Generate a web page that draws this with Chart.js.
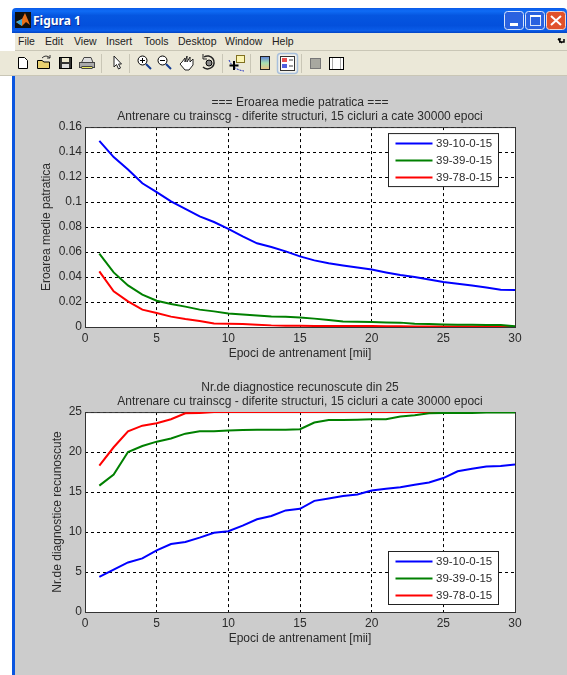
<!DOCTYPE html>
<html>
<head>
<meta charset="utf-8">
<title>Figura 1</title>
<script src="https://cdn.jsdelivr.net/npm/chart.js@4"></script>
<style>
html, body { margin: 0; padding: 0; background: #fff; overflow: hidden; }
#page { position: relative; width: 567px; height: 675px; overflow: hidden; font-family: "Liberation Sans", sans-serif; }
#titlebar { position: absolute; left: 12px; top: 8px; width: 555px; height: 25px; border-radius: 4px 4px 0 0;
  background: linear-gradient(#0a5ae8 0%, #0f6cf5 12%, #0556e0 30%, #0350dc 70%, #0a5ce8 90%, #0344c4 100%); }
#titlebar span { position: absolute; left: 21px; top: 4px; color: #fff; font: bold 12px "Noto Sans", sans-serif; text-shadow: 1px 1px 0 #0a2a90; }
#menubar { position: absolute; left: 15px; top: 33px; width: 552px; height: 17px; background: #ebe8d8; border-bottom: 1px solid #c9c6b6; }
#menubar span { position: absolute; top: 2px; font-size: 10.5px; color: #222; }
#toolbar { position: absolute; left: 0; top: 51px; width: 567px; height: 25px; }
#figure { position: absolute; left: 12px; top: 76px; width: 555px; height: 599px; background: #cccccc; border-left: 3px solid #0a55e0; box-sizing: border-box; }
canvas { position: absolute; left: 15px; filter: blur(0.35px); }
</style>
</head>
<body>
<div id="page">
  <div id="figure"></div>
  <div id="titlebar">
    <svg width="16" height="16" style="position:absolute;left:3px;top:4px"><rect width="16" height="16" fill="#101010"/><path d="M1 10 L7 7 L10 1 L13 8 L15 13 L11 10 L7 14 Z" fill="#e8701a"/><path d="M1 10 L7 7 L7 14 Z" fill="#3aa8d8"/></svg>
    <span>Figura 1</span>
    <svg width="90" height="25" style="position:absolute;left:485px;top:0">
      <rect x="7.5" y="3.5" width="19" height="18" rx="3" fill="#2a62e0" stroke="#d8e4fa"/><rect x="13" y="15" width="8" height="3" fill="#fff"/>
      <rect x="28.5" y="3.5" width="19" height="18" rx="3" fill="#2a62e0" stroke="#d8e4fa"/><rect x="33.5" y="7.5" width="10" height="10" fill="none" stroke="#d8e4fa"/><rect x="33" y="7" width="11" height="2" fill="#fff"/>
      <rect x="49.5" y="3.5" width="19" height="18" rx="3" fill="#e0512a" stroke="#f0d8d0"/><path d="M54 8 L64 17 M64 8 L54 17" stroke="#fff" stroke-width="2"/>
    </svg>
  </div>
  <div id="menubar">
    <svg width="10" height="10" style="position:absolute;left:541px;top:4px"><path d="M2 2 L6 6 M2 2 H5 M3 5 H8 V2" fill="none" stroke="#000" stroke-width="1.5"/></svg>
  </div>
  <svg id="toolbar" viewBox="0 0 567 25">
    <rect width="567" height="25" fill="#ebe8d8"/>
    <rect y="24" width="567" height="1" fill="#c9c6b6"/>
    <g fill="none" stroke="#000">
      <path d="M18.5 6.5 H24.5 L27.5 9.5 V17.5 H18.5 Z" fill="#fff"/>
      <path d="M37.5 9.5 H42 L44 11 H49.5 V17.5 H37.5 Z" fill="#e8d070"/><path d="M42 7 Q46 3 50 7 M50 4 V7 H47" stroke="#333"/>
      <rect x="59.5" y="6.5" width="12" height="11" fill="#333"/><rect x="62" y="7" width="7" height="4" fill="#ece8d0" stroke="none"/><rect x="62" y="13" width="7" height="4" fill="#ddd" stroke="none"/>
      <path d="M81.5 11.5 L84 6.5 H91 L93 11.5 Z" fill="#ddd" stroke="#444"/><rect x="79.5" y="11.5" width="15" height="5" fill="#aaa" stroke="#444"/><rect x="82" y="15.5" width="10" height="2" fill="#eeee60" stroke="#444"/>
      <path d="M114 5 V16 L116.5 13.5 L118.5 18 L120.5 17 L118.5 13 H121.5 Z" fill="#fff" stroke="#222"/>
      <circle cx="142.5" cy="9.5" r="4.5" fill="#fff"/><path d="M146 13 L151 18" stroke="#123a90" stroke-width="2"/><path d="M140 9.5 H145 M142.5 7 V12"/>
      <circle cx="162.5" cy="9.5" r="4.5" fill="#fff"/><path d="M166 13 L171 18" stroke="#123a90" stroke-width="2"/><path d="M160 9.5 H165"/>
      <path d="M182 11 L185 7 V11 L187 5 V11 L190 6 V11 L193 8 V14 L189 19 H185 L180 13 Z" fill="#fff" stroke="#222"/>
      <path d="M204 6 A6.5 6.5 0 1 1 203 16" stroke="#222" stroke-width="1.5"/><path d="M203 3 V8 H207" stroke="#222"/><circle cx="209" cy="12" r="3" fill="#888"/>
      <path d="M229 9 C232 16 237 19 244 20" stroke="#2030c0" stroke-dasharray="2 1"/><rect x="236.5" y="4.5" width="8" height="7" fill="#fbf4b0" stroke="#807020"/><path d="M234 10 V19 M229.5 14.5 H238.5" stroke="#000" stroke-width="2"/>
      <defs><linearGradient id="cb" x1="0" y1="0" x2="0" y2="1"><stop offset="0" stop-color="#6080d8"/><stop offset=".5" stop-color="#a8e0b0"/><stop offset="1" stop-color="#f0c080"/></linearGradient></defs>
      <rect x="260.5" y="5.5" width="9" height="13" fill="url(#cb)" stroke="#222"/>
      <rect x="277.5" y="2.5" width="20" height="20" rx="3" fill="#f2f1ea" stroke="#a8c0dc" stroke-width="1.5"/>
      <rect x="280.5" y="5.5" width="14" height="14" fill="#fff" stroke="#333"/><rect x="282" y="7" width="5" height="4" fill="#e85050" stroke="none"/><rect x="282" y="13" width="5" height="4" fill="#5060e0" stroke="none"/><path d="M289 9 H293 M289 15 H293" stroke="#444"/>
      <rect x="310.5" y="7.5" width="10" height="10" fill="#a8a8a0" stroke="#777"/>
      <rect x="329.5" y="6.5" width="14" height="12" fill="#fff" stroke="#000"/><path d="M332.5 7 V18 M340.5 7 V18" stroke="#aaa"/>
    </g>
    <g fill="#c9c6b6">
      <rect x="101" y="3" width="1" height="19"/><rect x="129" y="3" width="1" height="19"/><rect x="222" y="3" width="1" height="19"/>
      <rect x="250" y="3" width="1" height="19"/><rect x="301" y="3" width="1" height="19"/>
    </g>
  </svg>
  <canvas id="mse" width="552" height="275" style="top:90px"></canvas>
  <canvas id="diag" width="552" height="275" style="top:375px"></canvas>
</div>
<script>
// date
const epochs = [1, 2, 3, 4, 5, 6, 7, 8, 9, 10, 11, 12, 13, 14, 15, 16, 17, 18, 19, 20, 21, 22, 23, 24, 25, 26, 27, 28, 29, 30];
const seriesNames = ['39-10-0-15', '39-39-0-15', '39-78-0-15'];
const seriesColors = ['#0000ff', '#008000', '#ff0000'];

const mse10 = [0.149, 0.136, 0.126, 0.115, 0.108, 0.1005, 0.0945, 0.0885, 0.084, 0.0785, 0.0725, 0.067, 0.064, 0.0605, 0.0565, 0.0533, 0.051, 0.0493, 0.0477, 0.046, 0.0437, 0.0416, 0.04, 0.038, 0.036, 0.0347, 0.0333, 0.0317, 0.0299, 0.0296];
const mse39 = [0.0587, 0.0437, 0.0333, 0.0259, 0.021, 0.0184, 0.0163, 0.0139, 0.0125, 0.0109, 0.0101, 0.0093, 0.0085, 0.0083, 0.0077, 0.0067, 0.0056, 0.0045, 0.0043, 0.004, 0.0037, 0.0035, 0.0027, 0.0024, 0.0021, 0.0019, 0.0018, 0.0017, 0.0016, 0.0005];
const mse78 = [0.0445, 0.0285, 0.0205, 0.0139, 0.0112, 0.0083, 0.0064, 0.0048, 0.0029, 0.0027, 0.0024, 0.0019, 0.0013, 0.001, 0.001, 0.0009, 0.0009, 0.0008, 0.0008, 0.0008, 0.0007, 0.0007, 0.0005, 0.0005, 0.0005, 0.0004, 0.0004, 0.0004, 0.0003, 0.0003];

const diag10 = [4.4, 5.3, 6.2, 6.7, 7.7, 8.5, 8.75, 9.3, 9.9, 10.1, 10.8, 11.6, 12, 12.7, 12.9, 13.9, 14.2, 14.5, 14.7, 15.2, 15.4, 15.6, 15.9, 16.2, 16.75, 17.6, 17.9, 18.2, 18.25, 18.45];
const diag39 = [15.8, 17.2, 20, 20.75, 21.3, 21.7, 22.3, 22.6, 22.6, 22.7, 22.75, 22.8, 22.8, 22.8, 22.85, 23.7, 24, 24, 24.04, 24.1, 24.1, 24.45, 24.6, 24.85, 24.9, 24.9, 24.9, 24.95, 24.95, 24.95];
const diag78 = [18.3, 20.6, 22.6, 23.3, 23.6, 24.1, 24.85, 24.9, 25, 25, 25, 25, 25, 25, 25, 25, 25, 25, 25, 25, 25, 25, 25, 25, 25, 25, 25, 25, 25, 25];

const menuItems = [['File', 18], ['Edit', 45], ['View', 74], ['Insert', 106], ['Tools', 144], ['Desktop', 178], ['Window', 225], ['Help', 272]];
const menubar = document.getElementById('menubar');
menuItems.forEach(function (m) {
    const s = document.createElement('span');
    s.textContent = m[0];
    s.style.left = (m[1] - 15) + 'px';
    menubar.appendChild(s);
});

const textColor = '#2b2b2b';
const fontName = '"Liberation Sans", sans-serif';

// fundalul alb si rama axelor
const plotFrame = {
    id: 'plotFrame',
    beforeDraw(chart) {
        const a = chart.chartArea, c = chart.ctx;
        c.save();
        c.fillStyle = '#fff';
        c.fillRect(a.left, a.top, a.right - a.left, a.bottom - a.top);
        c.restore();
    },
    beforeDatasetsDraw(chart) {
        const a = chart.chartArea, c = chart.ctx;
        c.save();
        c.strokeStyle = '#333';
        c.lineWidth = 1;
        c.strokeRect(a.left + 0.5, a.top + 0.5, a.right - a.left, a.bottom - a.top);
        c.restore();
    }
};

// legenda in interiorul axelor, ca in matlab
const insideLegend = {
    id: 'insideLegend',
    afterDraw(chart, args, opts) {
        const a = chart.chartArea, c = chart.ctx;
        const w = 110, h = 53;
        const x = a.right - 16.5 - w;
        const y = opts.corner === 'top' ? a.top + 6.5 : a.bottom - 7.5 - h;
        c.save();
        c.fillStyle = '#fff';
        c.strokeStyle = '#222';
        c.lineWidth = 1;
        c.fillRect(x, y, w, h);
        c.strokeRect(x, y, w, h);
        c.font = '11.5px ' + fontName;
        c.textBaseline = 'middle';
        chart.data.datasets.forEach(function (ds, i) {
            const rowY = y + 10 + i * 17;
            c.strokeStyle = ds.borderColor;
            c.lineWidth = 2;
            c.beginPath();
            c.moveTo(x + 7, rowY);
            c.lineTo(x + 44, rowY);
            c.stroke();
            c.fillStyle = textColor;
            c.fillText(ds.label, x + 47.5, rowY + 0.5);
        });
        c.restore();
    }
};

function makeChart(id, cfg) {
    return new Chart(document.getElementById(id), {
        type: 'line',
        data: {
            datasets: cfg.series.map(function (vals, i) {
                return {
                    label: seriesNames[i],
                    data: vals.map(function (v, k) { return { x: epochs[k], y: v }; }),
                    borderColor: seriesColors[i],
                    borderWidth: 2,
                    pointRadius: 0,
                    tension: 0,
                    clip: 0
                };
            })
        },
        options: {
            responsive: false,
            animation: false,
            layout: { padding: { top: 2, right: 52 } },
            plugins: {
                legend: { display: false },
                tooltip: { enabled: false },
                title: {
                    display: true,
                    fullSize: false,
                    text: cfg.title,
                    color: textColor,
                    font: { family: fontName, size: 12, weight: 'normal', lineHeight: 1.17 },
                    padding: { top: 4, bottom: 3 }
                },
                insideLegend: { corner: cfg.legendCorner }
            },
            scales: {
                x: {
                    type: 'linear',
                    min: 0,
                    max: 30,
                    afterFit(s) { s.height = 38; },
                    border: { display: false, dash: [3, 3] },
                    grid: { color: '#000', drawTicks: false },
                    ticks: { stepSize: 5, color: textColor, padding: 4, maxRotation: 0, font: { family: fontName, size: 12 } },
                    title: { display: true, text: 'Epoci de antrenament [mii]', color: textColor, padding: { top: 0, bottom: 4 }, font: { family: fontName, size: 12 } }
                },
                y: {
                    min: 0,
                    max: cfg.yMax,
                    afterFit(s) { s.width = 70; },
                    border: { display: false, dash: [3, 3] },
                    grid: { color: '#000', drawTicks: false },
                    ticks: {
                        stepSize: cfg.yStep,
                        color: textColor,
                        padding: 3,
                        font: { family: fontName, size: 12 },
                        callback: function (v) { return String(+v.toFixed(2)); }
                    },
                    title: { display: true, text: cfg.yTitle, color: textColor, padding: { top: cfg.yTitleGap, bottom: 0 }, font: { family: fontName, size: 12 } }
                }
            }
        },
        plugins: [plotFrame, insideLegend]
    });
}

makeChart('mse', {
    series: [mse10, mse39, mse78],
    title: ['=== Eroarea medie patratica ===', 'Antrenare cu trainscg - diferite structuri, 15 cicluri a cate 30000 epoci'],
    yTitle: 'Eroarea medie patratica',
    yMax: 0.16,
    yStep: 0.02,
    yTitleGap: 24,
    legendCorner: 'top'
});

makeChart('diag', {
    series: [diag10, diag39, diag78],
    title: ['Nr.de diagnostice recunoscute din 25', 'Antrenare cu trainscg - diferite structuri, 15 cicluri a cate 30000 epoci'],
    yTitle: 'Nr.de diagnostice recunoscute',
    yMax: 25,
    yStep: 5,
    yTitleGap: 35,
    legendCorner: 'bottom'
});
</script>
</body>
</html>
